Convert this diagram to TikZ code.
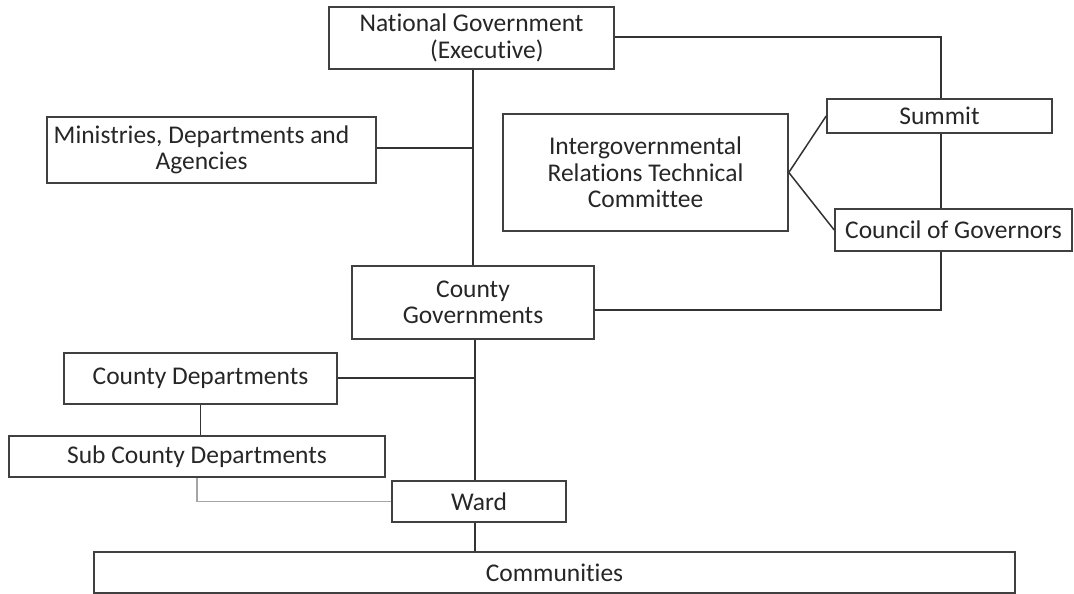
\documentclass[tikz,border=0pt]{standalone}
\usepackage{fontspec}
\setmainfont{Carlito}[Ligatures={NoCommon,NoContextual}]
\begin{document}
\begin{tikzpicture}[x=1pt,y=-1pt,
  box/.style={draw=black!75, line width=1.6pt, inner sep=0pt, align=center,
    text=black!85, font=\fontsize{25.5}{26.5}\selectfont},
  conn/.style={draw=black!80, line width=1.5pt},
  thinconn/.style={draw=black!35, line width=1.1pt}]
\useasboundingbox (0,0) rectangle (1074,594);
\node[box, minimum width=285pt, minimum height=62pt] (nat) at (471.5,38) {National Government\\\hspace*{1.2em}(Executive)};
\node[box, minimum width=329pt, minimum height=66pt] (mda) at (211.5,150) {Ministries, Departments and\hspace*{20pt}\\Agencies\hspace*{20pt}};
\node[box, minimum width=285pt, minimum height=117pt] (irtc) at (645.5,172.5) {Intergovernmental\\Relations Technical\\Committee};
\node[box, minimum width=225pt, minimum height=34pt] (summit) at (939.5,116) {Summit};
\node[box, minimum width=237pt, minimum height=42pt] (cog) at (953.5,230) {Council of Governors};
\node[box, minimum width=242pt, minimum height=73pt] (cg) at (473,302.5) {County\\Governments};
\node[box, minimum width=273pt, minimum height=51pt] (cd) at (200.5,378.5) {County Departments};
\node[box, minimum width=376pt, minimum height=41pt] (scd) at (197,456.5) {Sub County Departments};
\node[box, minimum width=174pt, minimum height=41pt] (ward) at (479,501.5) {Ward};
\node[box, minimum width=921pt, minimum height=41pt] (comm) at (554.5,572.5) {Communities};
\coordinate (j1) at (473,148);
\coordinate (j2) at (475,378);
\coordinate (sx) at (941,37);
\coordinate (k) at (941,310);
% connectors
\draw[conn] (nat.south -| j1) -- (cg.north -| j1);
\draw[conn] (mda.east |- j1) -- (j1);
\draw[conn] (nat.east |- sx) -| (summit.north -| sx);
\draw[conn] (summit.south -| sx) -- (cog.north -| sx);
\draw[conn] (cog.south -| k) |- (cg.east |- k);
\draw[conn] (irtc.east) -- (summit.west);
\draw[conn] (irtc.east) -- (cog.west);
\draw[conn] (cg.south -| j2) -- (ward.north -| j2);
\draw[conn] (cd.east |- j2) -- (j2);
\draw[conn] (cd.south) -- (scd.north -| cd.south);
\draw[thinconn] (scd.south) |- (ward.west);
\draw[conn] (ward.south -| j2) -- (comm.north -| j2);
\end{tikzpicture}
\end{document}
